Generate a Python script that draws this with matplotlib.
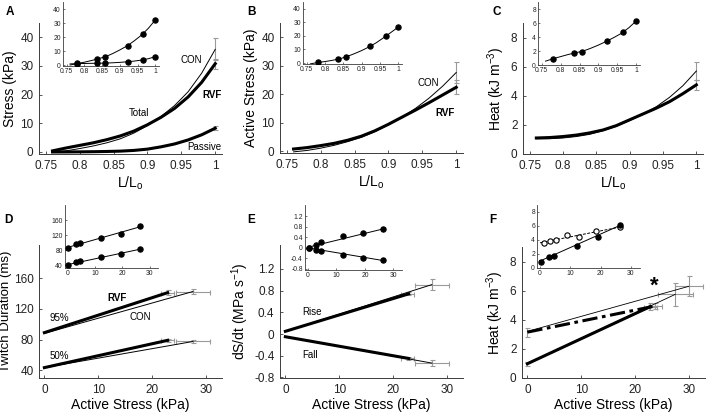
import matplotlib
matplotlib.use("Agg")
import matplotlib.pyplot as plt

plt.rcParams["font.family"] = ["Liberation Sans", "DejaVu Sans"]
plt.rcParams["mathtext.fontset"] = "custom"
plt.rcParams["mathtext.rm"] = "Liberation Sans"
plt.rcParams["mathtext.it"] = "Liberation Sans:italic"

W, H = 708, 413

# ---- panels A-C: values against L/Lo ----
length_grid = [0.76, 0.78, 0.80, 0.82, 0.84, 0.86, 0.88, 0.90, 0.92, 0.94, 0.96, 0.98, 1.00]
total_rvf = [0.4, 1.4, 2.3, 3.2, 4.3, 5.6, 7.3, 9.5, 12.1, 15.2, 19.2, 24.3, 30.8]
total_con = [0.0, 0.4, 1.2, 2.1, 3.2, 4.6, 6.6, 9.2, 12.4, 16.2, 21.0, 27.5, 35.8]
passive_rvf = [0.0, 0.02, 0.05, 0.1, 0.18, 0.3, 0.55, 1.0, 1.8, 2.8, 4.2, 6.0, 8.3]
passive_con = [0.0, 0.02, 0.04, 0.08, 0.15, 0.27, 0.5, 0.95, 1.7, 2.7, 4.1, 5.9, 8.4]
active_rvf = [0.7, 1.2, 1.9, 2.7, 3.8, 5.2, 7.1, 9.4, 11.9, 14.4, 17.0, 19.7, 22.4]
active_con = [-0.3, 0.2, 1.0, 2.0, 3.3, 4.8, 6.8, 9.2, 11.9, 15.0, 18.6, 22.8, 27.6]
heat_rvf = [1.1, 1.13, 1.2, 1.3, 1.45, 1.65, 1.95, 2.35, 2.75, 3.15, 3.6, 4.15, 4.75]
heat_con = [1.05, 1.05, 1.1, 1.2, 1.35, 1.6, 1.9, 2.3, 2.75, 3.25, 3.9, 4.7, 5.7]

# error bars at L/Lo = 1 (mean, sd)
total_end = [35.8, 30.8]
total_end_sd = [3.8, 1.8]
passive_end = [8.3]
passive_end_sd = [0.8]
active_end = [27.6, 22.4]
active_end_sd = [3.7, 2.4]
heat_end = [5.7, 4.75]
heat_end_sd = [0.6, 0.35]

# insets A-C: single muscle example
inset_lengths = [0.78, 0.835, 0.857, 0.922, 0.966, 1.0]
inset_total = [1.2, 4.0, 5.5, 13.9, 22.3, 32.3]
inset_passive = [1.0, 1.2, 1.2, 2.2, 3.4, 6.0]
inset_active = [0.5, 2.9, 4.6, 12.4, 19.8, 26.6]
inset_heat = [0.9, 1.7, 1.8, 3.4, 4.65, 6.3]
fit_total = [0.0, 1.0, 2.0, 3.2, 4.5, 6.0, 8.2, 10.8, 13.6, 17.2, 21.2, 26.2, 32.3]
fit_passive = [0.8, 1.0, 1.1, 1.2, 1.3, 1.4, 1.6, 1.9, 2.3, 2.8, 3.5, 4.5, 6.0]
fit_active = [-0.6, 0.4, 1.1, 2.0, 3.1, 4.8, 6.9, 9.2, 11.9, 15.0, 18.7, 22.6, 26.6]
fit_heat = [0.55, 0.9, 1.2, 1.5, 1.75, 2.0, 2.4, 2.85, 3.35, 3.9, 4.5, 5.3, 6.3]

# ---- panels D-F: values against active stress ----
stress_rvf = [0.0, 22.9]
stress_con = [0.0, 27.6]
t95_rvf = [89, 141]
t95_con = [88, 142.5]
t50_rvf = [43.5, 79]
t50_con = [43.5, 77.5]
rise_rvf = [0.05, 0.74]
rise_con = [0.05, 0.91]
fall_rvf = [-0.05, -0.45]
fall_con = [-0.05, -0.535]
stress_rvf_sd = 1.2
stress_con_sd = 3.2

heat_stress_rvf = [0.0, 22.8]
heat_rvf_line = [0.98, 4.9]
heat_stress_rvf2 = [0.0, 23.8]
heat_rvf_offset = [3.15, 4.95]
heat_stress_con = [0.0, 27.5]
heat_con_line = [1.0, 5.75]
heat_stress_con2 = [0.0, 30.0]
heat_con_offset = [3.2, 6.3]

# insets D-F
inset_stress = [0.25, 3.0, 4.5, 12.2, 19.3, 26.5]
inset_t95 = [87, 96, 100, 112.6, 123, 146]
inset_t50 = [40, 49.6, 51.5, 63, 71, 84.5]
inset_rise = [0.0, 0.12, 0.21, 0.44, 0.58, 0.73]
inset_fall = [0.0, -0.08, -0.13, -0.27, -0.40, -0.46]
inset_heat_filled = [0.86, 1.57, 1.67, 3.2, 4.43, 6.1]
inset_stress_open = [1.4, 3.4, 5.3, 8.9, 12.8, 18.4, 26.5]
inset_heat_open = [3.57, 3.9, 3.95, 4.7, 4.5, 5.25, 5.8]
fit_stress = [0.0, 27.0]
fit_t95 = [88, 144]
fit_t50 = [42, 84]
fit_rise = [0.02, 0.74]
fit_fall = [0.0, -0.5]
fit_heat_filled = [1.0, 6.2]
fit_heat_open = [3.6, 5.9]

GREY = "#9a9a9a"
AXC = "#3c3c3c"


def px_axes(fig, left, top, right, bottom):
    """Axes placed by pixel box (left, top, right, bottom)."""
    return fig.add_axes([left / W, 1 - bottom / H, (right - left) / W, (bottom - top) / H])


def style(ax, inset=False):
    for s in ("top", "right"):
        ax.spines[s].set_visible(False)
    for s in ("left", "bottom"):
        ax.spines[s].set_color(AXC)
        ax.spines[s].set_linewidth(0.6 if inset else 0.7)
    if inset:
        ax.tick_params(direction="in", length=1.5, width=0.5, labelsize=4.9, pad=1.5, colors=AXC,
                       labelcolor="#222222")
    else:
        ax.tick_params(direction="in", length=2.5, width=0.6, labelsize=8.5, pad=4, colors=AXC,
                       labelcolor="#222222")
    ax.patch.set_alpha(0)


def errbar(ax, x, y, yerr=None, xerr=None):
    ax.errorbar(x, y, yerr=yerr, xerr=xerr, fmt="none", ecolor=GREY, elinewidth=0.8,
                capsize=1.8, capthick=0.8, zorder=1)


def pair(ax, x_rvf, y_rvf, x_con, y_con):
    ax.plot(x_con, y_con, color="black", lw=0.7, zorder=3)
    ax.plot(x_rvf, y_rvf, color="black", lw=2.2, zorder=2)


def length_axes(ax, ylim, yticks):
    ax.set_xlim(0.74, 1.01)
    ax.set_ylim(*ylim)
    ax.set_xticks([0.75, 0.8, 0.85, 0.9, 0.95, 1.0])
    ax.set_xticklabels(["0.75", "0.8", "0.85", "0.9", "0.95", "1"])
    ax.set_yticks(yticks)


def stress_axes(ax, ylim, yticks, yticklabels=None):
    ax.set_xlim(-1, 33)
    ax.set_ylim(*ylim)
    ax.set_xticks([0, 10, 20, 30])
    ax.set_yticks(yticks)
    if yticklabels is not None:
        ax.set_yticklabels(yticklabels)


def dots(ax, x, y, filled=True):
    ax.plot(x, y, "o", ms=3.8, mfc="black" if filled else "white", mec="black", mew=0.8,
            zorder=4)


fig = plt.figure(figsize=(W / 100, H / 100), dpi=100)
lab_fs = 10
ann_fs = 7

# ---------- A ----------
ax = px_axes(fig, 39, 23, 222, 154)
style(ax)
pair(ax, length_grid, total_rvf, length_grid, total_con)
pair(ax, length_grid, passive_rvf, length_grid, passive_con)
errbar(ax, [1.0, 1.0], total_end, yerr=total_end_sd)
errbar(ax, [1.0], passive_end, yerr=passive_end_sd)
length_axes(ax, (-0.7, 45), [0, 10, 20, 30, 40])
ax.set_ylabel("Stress (kPa)", fontsize=lab_fs, labelpad=2)
ax.set_xlabel("L/L$_\\mathregular{o}$", fontsize=lab_fs, labelpad=2)
ax.text(0.965, 32.2, "CON", fontsize=ann_fs, ha="center", va="center")
ax.text(0.995, 20, "RVF", fontsize=ann_fs, ha="center", va="center", fontweight="bold")
ax.text(0.888, 13.5, "Total", fontsize=ann_fs, ha="center", va="center")
ax.text(0.984, 1.6, "Passive", fontsize=ann_fs, ha="center", va="center")

ax = px_axes(fig, 63, 2, 159, 66)
style(ax, inset=True)
ax.plot(length_grid, fit_total, color="black", lw=0.7)
ax.plot(length_grid, fit_passive, color="black", lw=0.7)
dots(ax, inset_lengths, inset_total)
dots(ax, inset_lengths, inset_passive)
length_axes(ax, (-0.7, 45), [0, 10, 20, 30, 40])

# ---------- B ----------
ax = px_axes(fig, 280, 23, 463, 153)
style(ax)
pair(ax, length_grid, active_rvf, length_grid, active_con)
errbar(ax, [1.0, 1.0], active_end, yerr=active_end_sd)
length_axes(ax, (-0.7, 45), [0, 10, 20, 30, 40])
ax.set_ylabel("Active Stress (kPa)", fontsize=lab_fs, labelpad=2)
ax.set_xlabel("L/L$_\\mathregular{o}$", fontsize=lab_fs, labelpad=2)
ax.text(0.959, 24, "CON", fontsize=ann_fs, ha="center", va="center")
ax.text(0.984, 13.5, "RVF", fontsize=ann_fs, ha="center", va="center", fontweight="bold")

ax = px_axes(fig, 303, 2, 402, 64)
style(ax, inset=True)
ax.plot(length_grid, fit_active, color="black", lw=0.7)
dots(ax, inset_lengths, inset_active)
length_axes(ax, (-0.7, 45), [0, 10, 20, 30, 40])

# ---------- C ----------
ax = px_axes(fig, 523, 23, 703, 154)
style(ax)
pair(ax, length_grid, heat_rvf, length_grid, heat_con)
errbar(ax, [1.0, 1.0], heat_end, yerr=heat_end_sd)
length_axes(ax, (0, 9), [0, 2, 4, 6, 8])
ax.set_ylabel("Heat (kJ m$^\\mathregular{-3}$)", fontsize=lab_fs, labelpad=3)
ax.set_xlabel("L/L$_\\mathregular{o}$", fontsize=lab_fs, labelpad=2)

ax = px_axes(fig, 538, 2, 640, 65)
style(ax, inset=True)
ax.plot(length_grid, fit_heat, color="black", lw=0.7)
dots(ax, inset_lengths, inset_heat)
length_axes(ax, (0, 9), [0, 2, 4, 6, 8])

# ---------- D ----------
ax = px_axes(fig, 39, 245, 222, 378)
style(ax)
pair(ax, stress_rvf, t95_rvf, stress_con, t95_con)
pair(ax, stress_rvf, t50_rvf, stress_con, t50_con)
errbar(ax, stress_rvf[1:], t95_rvf[1:], yerr=3, xerr=stress_rvf_sd)
errbar(ax, stress_con[1:], t95_con[1:], yerr=3, xerr=stress_con_sd)
errbar(ax, stress_rvf[1:], t50_rvf[1:], yerr=2, xerr=stress_rvf_sd)
errbar(ax, stress_con[1:], t50_con[1:], yerr=2, xerr=stress_con_sd)
stress_axes(ax, (30, 203), [40, 80, 120, 160])
ax.set_ylabel("Twitch Duration (ms)", fontsize=9.5, labelpad=1)
ax.set_xlabel("Active Stress (kPa)", fontsize=lab_fs, labelpad=2)
ax.text(13.5, 134, "RVF", fontsize=ann_fs, ha="center", va="center", fontweight="bold")
ax.text(17.8, 109.5, "CON", fontsize=ann_fs, ha="center", va="center")
ax.text(2.85, 108, "95%", fontsize=ann_fs, ha="center", va="center")
ax.text(2.85, 59, "50%", fontsize=ann_fs, ha="center", va="center")

ax = px_axes(fig, 65, 205, 158, 268)
style(ax, inset=True)
ax.plot(fit_stress, fit_t95, color="black", lw=0.7)
ax.plot(fit_stress, fit_t50, color="black", lw=0.7)
dots(ax, inset_stress, inset_t95)
dots(ax, inset_stress, inset_t50)
stress_axes(ax, (33, 201), [40, 80, 120, 160])

# ---------- E ----------
ax = px_axes(fig, 280, 245, 463, 378)
style(ax)
pair(ax, stress_rvf, rise_rvf, [0.0, 27.2], rise_con)
pair(ax, stress_rvf, fall_rvf, [0.0, 27.2], fall_con)
errbar(ax, [22.7], rise_rvf[1:], yerr=0.03, xerr=stress_rvf_sd)
errbar(ax, [27.2], rise_con[1:], yerr=0.1, xerr=stress_con_sd)
errbar(ax, [22.7], fall_rvf[1:], yerr=0.02, xerr=stress_rvf_sd)
errbar(ax, [27.2], fall_con[1:], yerr=0.06, xerr=stress_con_sd)
e_ticks = [-0.8, -0.4, 0, 0.4, 0.8, 1.2]
e_labels = ["-0.8", "-0.4", "0", "0.4", "0.8", "1.2"]
stress_axes(ax, (-0.81, 1.64), e_ticks, e_labels)
ax.set_ylabel("dS/dt (MPa s$^\\mathregular{-1}$)", fontsize=lab_fs, labelpad=2)
ax.set_xlabel("Active Stress (kPa)", fontsize=lab_fs, labelpad=2)
ax.text(4.9, 0.41, "Rise", fontsize=ann_fs, ha="center", va="center")
ax.text(4.5, -0.39, "Fall", fontsize=ann_fs, ha="center", va="center")

ax = px_axes(fig, 305, 205, 402, 270)
style(ax, inset=True)
ax.plot(fit_stress, fit_rise, color="black", lw=0.7)
ax.plot(fit_stress, fit_fall, color="black", lw=0.7)
dots(ax, inset_stress, inset_rise)
dots(ax, inset_stress, inset_fall)
stress_axes(ax, (-0.85, 1.64), e_ticks, e_labels)

# ---------- F ----------
ax = px_axes(fig, 522, 247, 705, 378)
style(ax)
ax.plot(heat_stress_con2, heat_con_offset, color="black", lw=0.6, zorder=3)
ax.plot(heat_stress_con, heat_con_line, color="black", lw=0.6, zorder=3)
ax.plot(heat_stress_rvf, heat_rvf_line, color="black", lw=2.2, zorder=2)
ax.plot(heat_stress_rvf2, heat_rvf_offset, color="black", lw=2.2, ls=(0, (5, 1.5, 1.2, 1.5)),
        zorder=2)
errbar(ax, [0.0], [heat_rvf_offset[0]], yerr=0.3)
errbar(ax, [0.0], [heat_rvf_line[0]], yerr=0.15)
errbar(ax, [heat_stress_rvf[1]], [heat_rvf_line[1]], yerr=0.25, xerr=stress_rvf_sd)
errbar(ax, [heat_stress_rvf2[1]], [heat_rvf_offset[1]], yerr=0.2, xerr=stress_rvf_sd)
errbar(ax, [heat_stress_con[1]], [heat_con_line[1]], yerr=0.8, xerr=stress_con_sd)
errbar(ax, [heat_stress_con2[1]], [heat_con_offset[1]], yerr=0.7, xerr=2.6)
stress_axes(ax, (0, 9), [0, 2, 4, 6, 8])
ax.set_ylabel("Heat (kJ m$^\\mathregular{-3}$)", fontsize=lab_fs, labelpad=3)
ax.set_xlabel("Active Stress (kPa)", fontsize=lab_fs, labelpad=2)
ax.text(23.5, 6.3, "*", fontsize=16, ha="center", va="center", fontweight="bold")

ax = px_axes(fig, 537, 205, 640, 268)
style(ax, inset=True)
ax.plot(fit_stress, fit_heat_filled, color="black", lw=0.7)
ax.plot(fit_stress, fit_heat_open, color="black", lw=0.7, ls=(0, (3, 1.5)))
dots(ax, inset_stress_open, inset_heat_open, filled=False)
dots(ax, inset_stress, inset_heat_filled)
stress_axes(ax, (0, 9), [0, 2, 4, 6, 8])

# panel letters
for letter, x, y in [("A", 10, 12), ("B", 252, 12), ("C", 497, 12),
                     ("D", 8, 220), ("E", 251, 220), ("F", 493, 220)]:
    fig.text(x / W, 1 - y / H, letter, fontsize=8.5, fontweight="bold", ha="center",
             va="center")

fig.savefig("out.png", dpi=100)
